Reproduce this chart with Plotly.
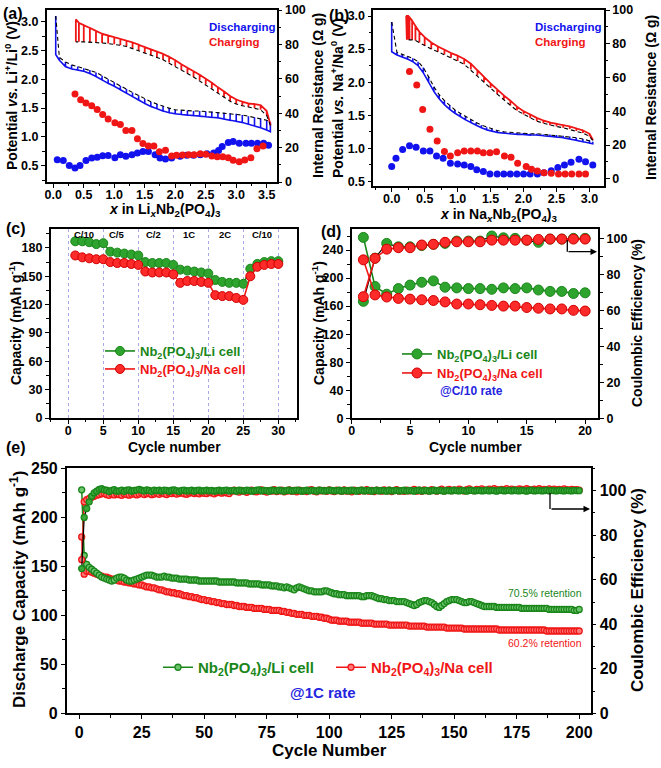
import plotly.graph_objects as go

# ======================= DATA =======================
# (a) Li GITT: discharge (x increasing) and charge (x decreasing)
li_dis_x = [0.04, 0.1, 0.2, 0.3, 0.4, 0.5, 0.6, 0.7, 0.8, 0.9, 1.0, 1.1, 1.2, 1.3, 1.4, 1.5, 1.6, 1.7, 1.8, 1.9,
            2.0, 2.1, 2.2, 2.3, 2.4, 2.5, 2.6, 2.7, 2.8, 2.9, 3.0, 3.1, 3.2, 3.3, 3.4, 3.5, 3.56]
li_dis_ccv = [2.43, 2.33, 2.22, 2.18, 2.16, 2.14, 2.10, 2.05, 1.99, 1.93, 1.88, 1.82, 1.76, 1.70, 1.64, 1.58, 1.53, 1.49, 1.45, 1.42,
              1.40, 1.39, 1.38, 1.37, 1.36, 1.35, 1.34, 1.33, 1.31, 1.29, 1.27, 1.25, 1.22, 1.19, 1.16, 1.12, 1.09]
li_dis_ocv = [3.10, 2.38, 2.30, 2.25, 2.22, 2.19, 2.16, 2.12, 2.06, 2.00, 1.95, 1.89, 1.83, 1.77, 1.72, 1.66, 1.61, 1.57, 1.53, 1.50,
              1.47, 1.46, 1.46, 1.45, 1.45, 1.44, 1.44, 1.43, 1.42, 1.41, 1.40, 1.38, 1.36, 1.34, 1.32, 1.29, 1.26]
li_chg_x = [3.56, 3.5, 3.4, 3.3, 3.2, 3.1, 3.0, 2.9, 2.8, 2.7, 2.6, 2.5, 2.4, 2.3, 2.2, 2.1, 2.0, 1.9, 1.8, 1.7,
            1.6, 1.5, 1.4, 1.3, 1.2, 1.1, 1.0, 0.9, 0.8, 0.7, 0.6, 0.5, 0.42, 0.37]
li_chg_ccv = [1.22, 1.45, 1.55, 1.57, 1.58, 1.61, 1.65, 1.71, 1.79, 1.86, 1.94, 2.01, 2.08, 2.14, 2.20, 2.26, 2.33, 2.39, 2.44, 2.48,
              2.52, 2.56, 2.60, 2.64, 2.67, 2.70, 2.73, 2.76, 2.79, 2.84, 2.89, 2.94, 2.98, 3.04]
li_chg_ocv = [1.20, 1.37, 1.47, 1.50, 1.52, 1.54, 1.57, 1.62, 1.69, 1.76, 1.84, 1.91, 1.98, 2.04, 2.10, 2.16, 2.23, 2.29, 2.34, 2.38,
              2.42, 2.46, 2.50, 2.54, 2.57, 2.59, 2.61, 2.62, 2.63, 2.64, 2.645, 2.65, 2.65, 2.65]
li_r_dis_x = [0.065, 0.164, 0.263, 0.356, 0.438, 0.536, 0.63, 0.72, 0.81, 0.90, 1.01, 1.10, 1.19, 1.29, 1.38, 1.47, 1.56, 1.67, 1.75,
              1.84, 1.94, 2.08, 2.19, 2.30, 2.41, 2.52, 2.63, 2.71, 2.77, 2.87, 2.95, 3.05, 3.16, 3.25, 3.35, 3.45, 3.53]
li_r_dis = [12.9, 12.5, 9.6, 8.1, 9.6, 12.5, 13.9, 14.4, 15.2, 15.4, 14.1, 15.8, 14.9, 15.8, 16.8, 17.8, 17.8, 15.8, 13.9,
            13.3, 13.9, 14.9, 15.6, 15.6, 15.8, 16.4, 16.8, 18.3, 20.7, 23.0, 23.6, 22.6, 22.6, 22.6, 22.6, 22.6, 21.3]
li_r_chg_x = [0.356, 0.449, 0.536, 0.63, 0.72, 0.81, 0.90, 1.01, 1.10, 1.19, 1.29, 1.38, 1.47, 1.56, 1.65, 1.74, 1.84, 1.94, 2.02,
              2.12, 2.22, 2.31, 2.41, 2.50, 2.60, 2.69, 2.78, 2.87, 2.95, 3.05, 3.14, 3.24, 3.34, 3.44]
li_r_chg = [51.1, 47.8, 45.9, 44.4, 42.1, 39.2, 36.7, 34.4, 33.4, 29.9, 29.9, 25.1, 22.4, 20.9, 20.9, 17.6, 18.4, 15.1, 15.5,
            15.7, 15.9, 15.9, 16.4, 16.1, 15.1, 14.7, 14.7, 14.1, 12.6, 11.8, 12.8, 14.1, 19.3, 20.9]

# (b) Na GITT
na_dis_x = [0.0, 0.08, 0.16, 0.24, 0.32, 0.40, 0.48, 0.56, 0.64, 0.72, 0.80, 0.88, 0.96, 1.04, 1.12, 1.20, 1.28, 1.36,
            1.44, 1.52, 1.60, 1.70, 1.80, 1.90, 2.0, 2.1, 2.2, 2.3, 2.4, 2.5, 2.6, 2.7, 2.8, 2.9, 3.0, 3.05]
na_dis_ccv = [2.46, 2.41, 2.38, 2.35, 2.31, 2.25, 2.14, 2.00, 1.86, 1.75, 1.66, 1.59, 1.53, 1.48, 1.43, 1.39, 1.35, 1.31,
              1.28, 1.26, 1.24, 1.23, 1.22, 1.21, 1.21, 1.20, 1.20, 1.19, 1.18, 1.17, 1.16, 1.14, 1.12, 1.10, 1.08, 1.07]
na_dis_ocv = [2.91, 2.45, 2.42, 2.39, 2.36, 2.31, 2.22, 2.08, 1.93, 1.81, 1.72, 1.65, 1.58, 1.53, 1.48, 1.43, 1.39, 1.35,
              1.32, 1.29, 1.27, 1.25, 1.24, 1.23, 1.23, 1.22, 1.22, 1.21, 1.21, 1.20, 1.19, 1.18, 1.16, 1.14, 1.12, 1.10]
na_chg_x = [3.05, 3.0, 2.9, 2.8, 2.7, 2.6, 2.5, 2.4, 2.3, 2.2, 2.1, 2.0, 1.9, 1.8, 1.7, 1.6, 1.5, 1.4, 1.3, 1.2,
            1.1, 1.0, 0.9, 0.8, 0.7, 0.6, 0.5, 0.42, 0.36, 0.31, 0.27, 0.25, 0.23, 0.22]
na_chg_ccv = [1.13, 1.22, 1.27, 1.30, 1.33, 1.35, 1.37, 1.39, 1.42, 1.46, 1.51, 1.56, 1.63, 1.72, 1.80, 1.89, 1.98, 2.08, 2.18, 2.28,
              2.35, 2.40, 2.44, 2.49, 2.54, 2.60, 2.68, 2.76, 2.85, 2.93, 2.98, 3.00, 3.00, 3.00]
na_chg_ocv = [1.12, 1.18, 1.23, 1.26, 1.29, 1.31, 1.33, 1.35, 1.38, 1.41, 1.46, 1.51, 1.57, 1.65, 1.73, 1.82, 1.91, 2.00, 2.10, 2.19,
              2.27, 2.32, 2.37, 2.42, 2.46, 2.50, 2.55, 2.60, 2.63, 2.64, 2.64, 2.64, 2.64, 2.64]
na_r_dis_x = [0.0, 0.065, 0.166, 0.27, 0.37, 0.48, 0.58, 0.68, 0.78, 0.89, 1.0, 1.1, 1.2, 1.29, 1.39, 1.49, 1.6, 1.7, 1.8, 1.9,
              2.0, 2.1, 2.21, 2.31, 2.42, 2.52, 2.62, 2.72, 2.84, 2.94, 3.05]
na_r_dis = [7.2, 12.1, 17.4, 19.6, 18.6, 16.4, 16.4, 13.5, 12.1, 9.2, 8.8, 8.2, 7.2, 5.3, 4.3, 2.8, 2.8, 2.8, 2.8, 2.8,
            2.8, 2.8, 2.8, 3.6, 4.8, 6.7, 8.2, 9.8, 11.5, 10.1, 8.2]
na_r_chg_x = [0.27, 0.38, 0.47, 0.58, 0.69, 0.80, 0.89, 1.0, 1.1, 1.2, 1.3, 1.39, 1.49, 1.59, 1.71, 1.81, 1.91, 2.04, 2.12,
              2.21, 2.31, 2.42, 2.53, 2.63, 2.73, 2.84, 2.94]
na_r_chg = [63.5, 55.6, 41.1, 29.3, 22.4, 16.1, 13.5, 15.4, 16.4, 16.4, 16.4, 15.4, 15.4, 16.0, 13.5, 12.7, 9.2, 7.2, 5.6,
            4.6, 3.6, 3.2, 2.8, 2.8, 2.8, 2.8, 2.8]

# (c) rate capability
rate_cycles = list(range(1, 31))
rate_li = [187, 187, 186, 184, 185, 176, 175, 174, 173, 172, 165, 164, 164, 164, 162,
           157, 156, 155, 154, 153, 146, 144, 143, 143, 142, 158, 163, 165, 166, 166]
rate_na = [172, 170, 169, 168, 168, 165, 164, 164, 163, 162, 155, 154, 154, 154, 152,
           143, 145, 145, 144, 143, 130, 129, 129, 127, 125, 150, 160, 162, 163, 163]
rate_labels = ["C/10", "C/5", "C/2", "1C", "2C", "C/10"]
rate_label_x = [2.3, 6.9, 12.2, 17.2, 22.4, 27.6]

# (d) C/10 cycling
d_cycles = list(range(1, 21))
d_li_cap = [258, 188, 177, 185, 190, 194, 196, 187, 186, 185, 185, 184, 186, 185, 186, 183, 181, 181, 178, 179]
d_na_cap = [226, 176, 173, 171, 170, 169, 168, 166, 163, 163, 162, 161, 160, 160, 158, 157, 156, 156, 154, 153]
d_li_ce = [65.0, 89.0, 97.2, 95.3, 95.3, 96.0, 96.7, 97.2, 98.5, 98.5, 98.5, 101.3, 100.3, 100.0, 99.0, 97.8, 99.6, 99.6, 100.0, 100.0]
d_na_ce = [67.6, 88.9, 94.0, 94.8, 94.8, 96.3, 96.7, 97.8, 98.1, 98.1, 98.1, 99.0, 99.0, 99.0, 99.0, 99.4, 99.6, 99.6, 99.6, 99.6]

# (e) 1C long cycling
e_cycles = list(range(1, 201))
e_li_cap = [228, 161, 152, 149, 147, 145, 143, 141, 139, 138,
            137, 136, 135, 136, 138, 139, 139, 138, 136, 135,
            135, 136, 137, 138, 139, 140, 141, 141, 141, 140,
            139, 139, 139, 140, 139, 139, 138, 138, 138, 137,
            137, 137, 137, 136, 136, 136, 136, 135, 135, 135,
            135, 135, 135, 135, 135, 134, 134, 134, 134, 134,
            134, 134, 133, 133, 133, 133, 133, 132, 132, 132,
            132, 132, 131, 131, 131, 131, 130, 130, 130, 129,
            129, 128, 129, 128, 127, 126, 128, 129, 128, 127,
            126, 125, 125, 124, 124, 124, 124, 125, 125, 124,
            123, 122, 122, 121, 121, 121, 120, 120, 120, 120,
            120, 120, 119, 119, 120, 120, 120, 119, 118, 117,
            117, 116, 116, 115, 115, 115, 114, 114, 114, 114,
            113, 112, 111, 110, 111, 113, 114, 115, 115, 114,
            113, 111, 109, 108, 110, 112, 114, 115, 116, 116,
            116, 115, 114, 113, 113, 114, 114, 113, 112, 111,
            110, 109, 109, 109, 109, 109, 108, 108, 108, 108,
            108, 108, 108, 108, 108, 108, 107, 107, 107, 107,
            107, 107, 107, 107, 107, 107, 107, 106, 106, 106,
            106, 106, 106, 106, 106, 106, 106, 105, 105, 106]
e_na_cap = [180, 142, 145, 145, 144, 143, 142, 141, 140, 139,
            139, 138, 137, 137, 136, 135, 135, 134, 134, 133,
            133, 132, 132, 131, 131, 130, 129, 129, 128, 128,
            127, 126, 126, 125, 124, 124, 123, 123, 122, 122,
            121, 120, 120, 119, 119, 118, 118, 117, 116, 116,
            115, 115, 114, 114, 113, 113, 112, 112, 111, 111,
            111, 110, 110, 109, 109, 109, 108, 108, 108, 107,
            107, 107, 107, 106, 106, 106, 105, 105, 105, 105,
            104, 104, 103, 103, 102, 102, 101, 101, 101, 100,
            100, 100, 99, 99, 99, 98, 98, 97, 97, 96,
            95, 95, 95, 94, 94, 94, 94, 93, 93, 93,
            93, 93, 92, 92, 92, 92, 92, 91, 91, 91,
            91, 91, 91, 90, 90, 90, 90, 90, 90, 90,
            90, 89, 89, 89, 89, 89, 89, 89, 88, 88,
            88, 88, 88, 88, 88, 88, 87, 87, 87, 87,
            87, 87, 87, 86, 86, 86, 86, 86, 86, 86,
            86, 86, 86, 86, 86, 86, 86, 85, 85, 85,
            85, 85, 85, 85, 85, 85, 85, 85, 85, 85,
            85, 85, 85, 85, 85, 85, 84, 84, 84, 84,
            84, 84, 84, 84, 84, 84, 84, 84, 84, 84]
e_li_ce = [65.0, 88.0, 92.0, 95.0, 97.5, 99.0, 99.8, 100.6, 100.9, 100.4,
           100.2, 99.6, 100.1, 100.5, 99.8, 99.9, 100.3, 99.7, 100.2, 100.4,
           99.8, 100.1, 100.3, 100.6, 100.2, 99.9, 100.4, 100.1, 99.7, 100.3,
           100.0, 100.2, 99.9, 100.3, 100.1, 99.8, 100.2, 100.4, 100.0, 99.7,
           100.1, 100.3, 99.9, 100.0, 100.2, 99.8, 100.1, 100.3, 99.9, 100.0,
           100.2, 99.9, 100.1, 99.8, 100.0, 100.2, 99.9, 100.1, 100.3, 99.9,
           100.0, 100.1, 99.8, 100.2, 100.0, 99.9, 100.3, 100.1, 99.8, 100.0,
           100.2, 100.4, 99.9, 100.1, 100.0, 99.8, 100.2, 100.1, 99.9, 100.3,
           100.0, 99.8, 100.1, 100.2, 99.9, 100.0, 100.3, 100.1, 99.8, 100.0,
           100.2, 99.9, 100.1, 100.0, 99.8, 100.2, 100.1, 99.9, 100.0, 100.2,
           100.1, 99.9, 100.0, 100.2, 99.8, 100.1, 100.0, 99.9, 100.2, 100.0,
           99.8, 100.1, 100.2, 99.9, 100.0, 100.1, 99.8, 100.0, 100.2, 99.9,
           100.1, 100.0, 99.8, 100.2, 99.9, 100.0, 100.1, 99.9, 100.0, 100.2,
           99.9, 100.1, 100.0, 99.8, 100.1, 100.2, 99.9, 100.0, 100.1, 99.8,
           100.0, 100.2, 99.9, 100.1, 100.0, 99.8, 100.1, 100.0, 99.9, 100.2,
           100.0, 99.9, 100.1, 100.0, 99.8, 100.2, 100.1, 99.9, 100.0, 100.1,
           99.9, 100.0, 100.2, 99.9, 100.1, 100.0, 99.8, 100.1, 100.2, 99.9,
           100.0, 100.1, 99.9, 100.2, 100.0, 99.9, 100.1, 100.0, 99.8, 100.1,
           100.2, 99.9, 100.0, 100.1, 99.9, 100.0, 100.2, 99.9, 100.1, 100.0,
           99.9, 100.1, 100.0, 99.9, 100.1, 100.0, 99.9, 100.1, 100.0, 100.0]
e_na_ce = [69.0, 95.0, 96.0, 96.5, 97.0, 97.5, 98.0, 98.3, 98.6, 98.8,
           98.2, 97.9, 98.5, 98.1, 98.6, 98.2, 97.9, 98.5, 98.3, 98.0,
           98.4, 98.7, 98.1, 98.5, 98.9, 98.3, 98.6, 98.8, 98.2, 98.5,
           98.8, 98.4, 99.0, 98.6, 98.3, 98.9, 98.7, 99.1, 98.5, 98.8,
           99.0, 98.6, 98.4, 98.9, 99.3, 98.7, 99.0, 98.6, 99.1, 98.8,
           98.7, 99.2, 99.0, 98.6, 99.1, 99.5, 98.9, 99.2, 99.0, 98.7,
           99.8, 100.2, 99.6, 99.4, 100.1, 99.7, 99.3, 99.9, 100.3, 99.6,
           99.5, 99.9, 100.4, 99.7, 99.4, 100.0, 99.8, 100.5, 99.6, 99.9,
           100.2, 99.5, 99.8, 100.4, 99.7, 100.1, 99.5, 100.3, 99.8, 100.0,
           99.6, 100.2, 100.5, 99.8, 99.5, 100.3, 99.9, 100.1, 99.7, 100.4,
           99.9, 99.6, 100.2, 100.0, 99.7, 100.4, 99.8, 100.1, 99.5, 100.3,
           100.0, 99.7, 100.3, 99.9, 100.5, 99.8, 100.1, 99.6, 100.2, 100.0,
           99.8, 100.4, 99.9, 100.2, 99.6, 100.1, 100.5, 99.8, 100.0, 99.7,
           100.3, 99.9, 100.1, 100.6, 99.8, 100.2, 99.7, 100.4, 100.0, 99.9,
           100.5, 100.1, 99.8, 100.3, 100.7, 99.9, 100.2, 100.6, 100.0, 100.4,
           100.1, 100.7, 100.3, 99.9, 100.5, 100.8, 100.2, 100.0, 100.6, 100.3,
           100.8, 100.4, 100.1, 100.7, 100.3, 100.9, 100.5, 100.2, 100.6, 100.4,
           100.9, 100.3, 100.7, 100.5, 100.2, 100.8, 100.6, 100.4, 100.9, 100.5,
           100.3, 100.7, 100.5, 100.9, 100.4, 100.6, 100.2, 100.8, 100.5, 100.7,
           100.4, 100.6, 100.3, 100.8, 100.5, 100.2, 100.6, 100.4, 100.5, 100.3]

# ======================= STYLE =======================
FONT = "Liberation Sans, Arial, Helvetica, sans-serif"
BLUE = "#1212ee"
RED = "#f01616"
GREEN = "#1a861a"
GFILL = "#2ea32e"
RFILL = "#ff2a2a"
TBLUE = "#2525e0"
W, H = 661, 768


def fx(p):
    return p / W


def fy(p):
    return 1 - p / H


def gitt_path(xs, ccv, ocv):
    px, py = [], []
    for x, c, o in zip(xs, ccv, ocv):
        px += [x, x, x]
        py += [c, o, c]
    return px, py


fig = go.Figure()


def line(x, y, xa, ya, color, width=1.6, dash=None):
    fig.add_trace(go.Scatter(x=x, y=y, mode="lines", xaxis=xa, yaxis=ya, showlegend=False,
                             line=dict(color=color, width=width, dash=dash), hoverinfo="skip"))


def dots(x, y, xa, ya, color, size=7):
    fig.add_trace(go.Scatter(x=x, y=y, mode="markers", xaxis=xa, yaxis=ya, showlegend=False,
                             marker=dict(color=color, size=size, line=dict(width=0)), hoverinfo="skip"))


# ---- (a)
px_, py_ = gitt_path(li_dis_x, li_dis_ccv, li_dis_ocv)
line(px_, py_, "x", "y", BLUE, 1.6)
line(li_dis_x, li_dis_ocv, "x", "y", "black", 1.1, "4px,3px")
px_, py_ = gitt_path(li_chg_x, li_chg_ccv, li_chg_ocv)
line(px_, py_, "x", "y", RED, 1.8)
line(li_chg_x, li_chg_ocv, "x", "y", "black", 1.1, "4px,3px")
dots(li_r_dis_x, li_r_dis, "x", "y2", BLUE)
dots(li_r_chg_x, li_r_chg, "x", "y2", RED)

# ---- (b)
px_, py_ = gitt_path(na_dis_x, na_dis_ccv, na_dis_ocv)
line(px_, py_, "x2", "y3", BLUE, 1.6)
line(na_dis_x, na_dis_ocv, "x2", "y3", "black", 1.1, "4px,3px")
px_, py_ = gitt_path(na_chg_x, na_chg_ccv, na_chg_ocv)
line(px_, py_, "x2", "y3", RED, 1.8)
line(na_chg_x, na_chg_ocv, "x2", "y3", "black", 1.1, "4px,3px")
dots(na_r_dis_x, na_r_dis, "x2", "y4", BLUE)
dots(na_r_chg_x, na_r_chg, "x2", "y4", RED)

LI_NAME = '<span style="color:%s">Nb<sub>2</sub>(PO<sub>4</sub>)<sub>3</sub>/Li cell</span>' % GREEN
NA_NAME = '<span style="color:%s">Nb<sub>2</sub>(PO<sub>4</sub>)<sub>3</sub>/Na cell</span>' % RED

# ---- (c)
fig.add_trace(go.Scatter(x=rate_cycles, y=rate_li, mode="lines+markers", xaxis="x3", yaxis="y5",
                         name=LI_NAME, legend="legend",
                         line=dict(color=GREEN, width=1.6),
                         marker=dict(size=9, color=GFILL, line=dict(color=GREEN, width=1))))
fig.add_trace(go.Scatter(x=rate_cycles, y=rate_na, mode="lines+markers", xaxis="x3", yaxis="y5",
                         name=NA_NAME, legend="legend4",
                         line=dict(color=RED, width=1.6),
                         marker=dict(size=9, color=RFILL, line=dict(color="#d00000", width=1))))

# ---- (d)
fig.add_trace(go.Scatter(x=d_cycles, y=d_li_cap, mode="lines+markers", xaxis="x4", yaxis="y6",
                         name=LI_NAME, legend="legend2",
                         line=dict(color=GREEN, width=1.6),
                         marker=dict(size=10, color=GFILL, line=dict(color=GREEN, width=1))))
fig.add_trace(go.Scatter(x=d_cycles, y=d_na_cap, mode="lines+markers", xaxis="x4", yaxis="y6",
                         name=NA_NAME, legend="legend5",
                         line=dict(color=RED, width=1.6),
                         marker=dict(size=10, color=RFILL, line=dict(color="#d00000", width=1))))
fig.add_trace(go.Scatter(x=d_cycles, y=d_li_ce, mode="lines+markers", xaxis="x4", yaxis="y7",
                         showlegend=False, line=dict(color="black", width=1.2),
                         marker=dict(size=10, color=GFILL, line=dict(color=GREEN, width=1))))
fig.add_trace(go.Scatter(x=d_cycles, y=d_na_ce, mode="lines+markers", xaxis="x4", yaxis="y7",
                         showlegend=False, line=dict(color=RED, width=1.6),
                         marker=dict(size=10, color=RFILL, line=dict(color="#d00000", width=1))))

# ---- (e)
fig.add_trace(go.Scatter(x=e_cycles, y=e_na_cap, mode="lines+markers", xaxis="x5", yaxis="y8",
                         name=NA_NAME, legend="legend6",
                         line=dict(color=RED, width=1.5),
                         marker=dict(size=6, color="#ff7a7a", line=dict(color=RED, width=1.3))))
fig.add_trace(go.Scatter(x=e_cycles, y=e_li_cap, mode="lines+markers", xaxis="x5", yaxis="y8",
                         name=LI_NAME, legend="legend3",
                         line=dict(color=GREEN, width=1.5),
                         marker=dict(size=6, color="#6cc46c", line=dict(color=GREEN, width=1.3))))
fig.add_trace(go.Scatter(x=e_cycles, y=e_na_ce, mode="lines+markers", xaxis="x5", yaxis="y9",
                         showlegend=False, line=dict(color=RED, width=1.5),
                         marker=dict(size=6, color="#ff7a7a", line=dict(color=RED, width=1.3))))
fig.add_trace(go.Scatter(x=e_cycles, y=e_li_ce, mode="lines+markers", xaxis="x5", yaxis="y9",
                         showlegend=False, line=dict(color="black", width=1.2),
                         marker=dict(size=6, color="#3aa83a", line=dict(color=GREEN, width=1.3))))

# ======================= AXES =======================


def axis(domain, rng, dtick, minor, size, fmt=None, anchor=None, side=None, overlaying=None,
         mirror=True, grid=False, standoff=0):
    d = dict(range=rng, dtick=dtick, tick0=0, showline=True, linecolor="black", linewidth=1.5,
             ticks="outside", ticklen=4, tickwidth=1.4, tickcolor="black", mirror=mirror,
             tickfont=dict(family=FONT, size=size, color="black", weight="bold"),
             showgrid=grid, zeroline=False, fixedrange=True, automargin=False,
             ticklabelstandoff=standoff,
             minor=dict(ticks="outside", ticklen=2.5, tickwidth=1.1, tickcolor="black", dtick=minor, tick0=0,
                        showgrid=False))
    if domain is not None:
        d["domain"] = domain
    if fmt:
        d["tickformat"] = fmt
    if anchor:
        d["anchor"] = anchor
    if side:
        d["side"] = side
    if overlaying:
        d["overlaying"] = overlaying
    if grid:
        d["gridcolor"] = "#a9a9e6"
        d["griddash"] = "dot"
        d["gridwidth"] = 1
    return d


def leg(x, y, size):
    return dict(x=fx(x), y=fy(y), xanchor="left", yanchor="top", bgcolor="rgba(0,0,0,0)",
                font=dict(family=FONT, size=size, weight="bold"), itemwidth=30, tracegroupgap=0)


TS = 12.5
XS = -4
layout = dict(
    width=W, height=H, margin=dict(l=0, r=0, t=0, b=0, pad=0, autoexpand=False),
    paper_bgcolor="white", plot_bgcolor="rgba(0,0,0,0)",
    font=dict(family=FONT, color="black"),
    xaxis=axis([fx(46.7), fx(276.7)], [-0.108, 3.664], 0.5, 0.25, TS, ".1f", anchor="y", standoff=XS),
    yaxis=axis([fy(182), fy(10)], [0.217, 3.203], 0.5, 0.25, TS, ".1f", anchor="x", mirror=False),
    yaxis2=axis(None, [0, 100], 20, 10, TS, anchor="x", side="right", overlaying="y", mirror=False),
    xaxis2=axis([fx(373.3), fx(604)], [-0.279, 3.22], 0.5, 0.25, TS, ".1f", anchor="y3", standoff=XS),
    yaxis3=axis([fy(186), fy(10)], [0.43, 3.091], 0.5, 0.25, TS, ".1f", anchor="x2", mirror=False),
    yaxis4=axis(None, [-4.3, 100], 20, 10, TS, anchor="x2", side="right", overlaying="y3", mirror=False),
    xaxis3=axis([fx(50.7), fx(297)], [-2.51, 32.67], 5, 2.5, TS, anchor="y5", grid=True, standoff=XS),
    yaxis5=axis([fy(418), fy(229)], [0, 200], 30, 15, TS, anchor="x3"),
    xaxis4=axis([fx(351.7), fx(598.3)], [0, 21.13], 5, 2.5, TS, anchor="y6", standoff=XS),
    yaxis6=axis([fy(418.3), fy(229)], [0, 270], 40, 20, TS, anchor="x4", mirror=False),
    yaxis7=axis(None, [0, 105.2], 20, 10, TS, anchor="x4", side="right", overlaying="y6", mirror=False),
    xaxis5=axis([fx(66.7), fx(590.7)], [-5, 204.6], 25, 12.5, 16, anchor="y8"),
    yaxis8=axis([fy(713.3), fy(468.3)], [0, 250], 50, 25, 16, anchor="x5", mirror=False),
    yaxis9=axis(None, [0, 110.06], 20, 10, 16, anchor="x5", side="right", overlaying="y8", mirror=False),
    legend=leg(100, 336, 13),
    legend4=leg(100, 354, 13),
    legend2=leg(397, 339, 13),
    legend5=leg(397, 358, 13),
    legend3=leg(158, 651, 15),
    legend6=leg(331, 651, 15),
)
fig.update_layout(**layout)

# ======================= TEXT =======================
ann = []


def txt(x, y, s, size, color="black", bold=True, angle=0, xanchor="center", yanchor="middle",
        xref="paper", yref="paper"):
    if xref == "paper":
        x = fx(x)
    if yref == "paper":
        y = fy(y)
    ann.append(dict(x=x, y=y, xref=xref, yref=yref, text=s, showarrow=False, textangle=angle,
                    xanchor=xanchor, yanchor=yanchor,
                    font=dict(family=FONT, size=size, color=color, weight="bold" if bold else "normal")))


# panel labels
for lab, x, y in [("(a)", 13, 14), ("(b)", 339, 15), ("(c)", 16, 228), ("(d)", 331, 232), ("(e)", 16, 447)]:
    txt(x, y, lab, 16)

AT = 14
txt(11, 96, "Potential <i>vs.</i> Li<sup>+</sup>/Li<sup>0</sup> (V)", AT, angle=-90)
txt(318, 96, "Internal Resistance (Ω g)", AT, angle=-90)
txt(165, 210, "<i>x</i> in Li<sub><i>x</i></sub>Nb<sub>2</sub>(PO<sub>4</sub>)<sub>3</sub>", AT)
txt(337, 98, "Potential <i>vs.</i> Na<sup>+</sup>/Na<sup>0</sup> (V)", AT, angle=-90)
txt(651, 98, "Internal Resistance (Ω g)", AT, angle=-90)
txt(499, 215, "<i>x</i> in Na<sub><i>x</i></sub>Nb<sub>2</sub>(PO<sub>4</sub>)<sub>3</sub>", AT)
txt(15, 323, "Capacity (mAh g<sup>-1</sup>)", AT, angle=-90)
txt(174, 447, "Cycle number", AT)
txt(318, 323, "Capacity (mAh g<sup>-1</sup>)", AT, angle=-90)
txt(637, 323, "Coulombic Efficiency (%)", AT, angle=-90)
txt(475, 447, "Cycle number", AT)
txt(18, 590, "Discharge Capacity (mAh g<sup>-1</sup>)", 17, angle=-90)
txt(637, 590, "Coulombic Efficiency (%)", 17, angle=-90)
txt(329, 750, "Cycle Number", 17)

# GITT legends
txt(207, 27, "Discharging", 11.5, BLUE, xanchor="left")
txt(207, 41.5, "Charging", 11.5, RED, xanchor="left")
txt(533, 27, "Discharging", 11.5, BLUE, xanchor="left")
txt(533, 41.5, "Charging", 11.5, RED, xanchor="left")

# rate labels
for lab, xv in zip(rate_labels, rate_label_x):
    txt(xv, 194, lab, 9.5, xref="x3", yref="y5")

txt(471, 391, "@C/10 rate", 12, TBLUE)
txt(323, 692, "@1C rate", 15, TBLUE)
txt(584, 593, "70.5% retention", 10.5, GREEN, bold=False, xanchor="right")
txt(584, 643, "60.2% retention", 10.5, RED, bold=False, xanchor="right")

# arrows pointing to the CE axis
ann.append(dict(x=fx(597), y=fy(251.7), xref="paper", yref="paper", ax=-30, ay=0, axref="pixel", ayref="pixel",
                text="", showarrow=True, arrowhead=2, arrowsize=1, arrowwidth=1.3, arrowcolor="black"))
ann.append(dict(x=fx(590), y=fy(509), xref="paper", yref="paper", ax=-40, ay=0, axref="pixel", ayref="pixel",
                text="", showarrow=True, arrowhead=2, arrowsize=1, arrowwidth=1.3, arrowcolor="black"))
shapes = [
    dict(type="line", xref="paper", yref="paper", x0=fx(567.3), x1=fx(567.3), y0=fy(240), y1=fy(251.7),
         line=dict(color="black", width=1.3)),
    dict(type="line", xref="paper", yref="paper", x0=fx(550), x1=fx(550), y0=fy(493), y1=fy(509),
         line=dict(color="black", width=1.3)),
]
fig.update_layout(annotations=ann, shapes=shapes)

fig.write_html("out.html", config={"displayModeBar": False},
               post_script="document.body.style.margin='0px';document.body.style.padding='0px';")
